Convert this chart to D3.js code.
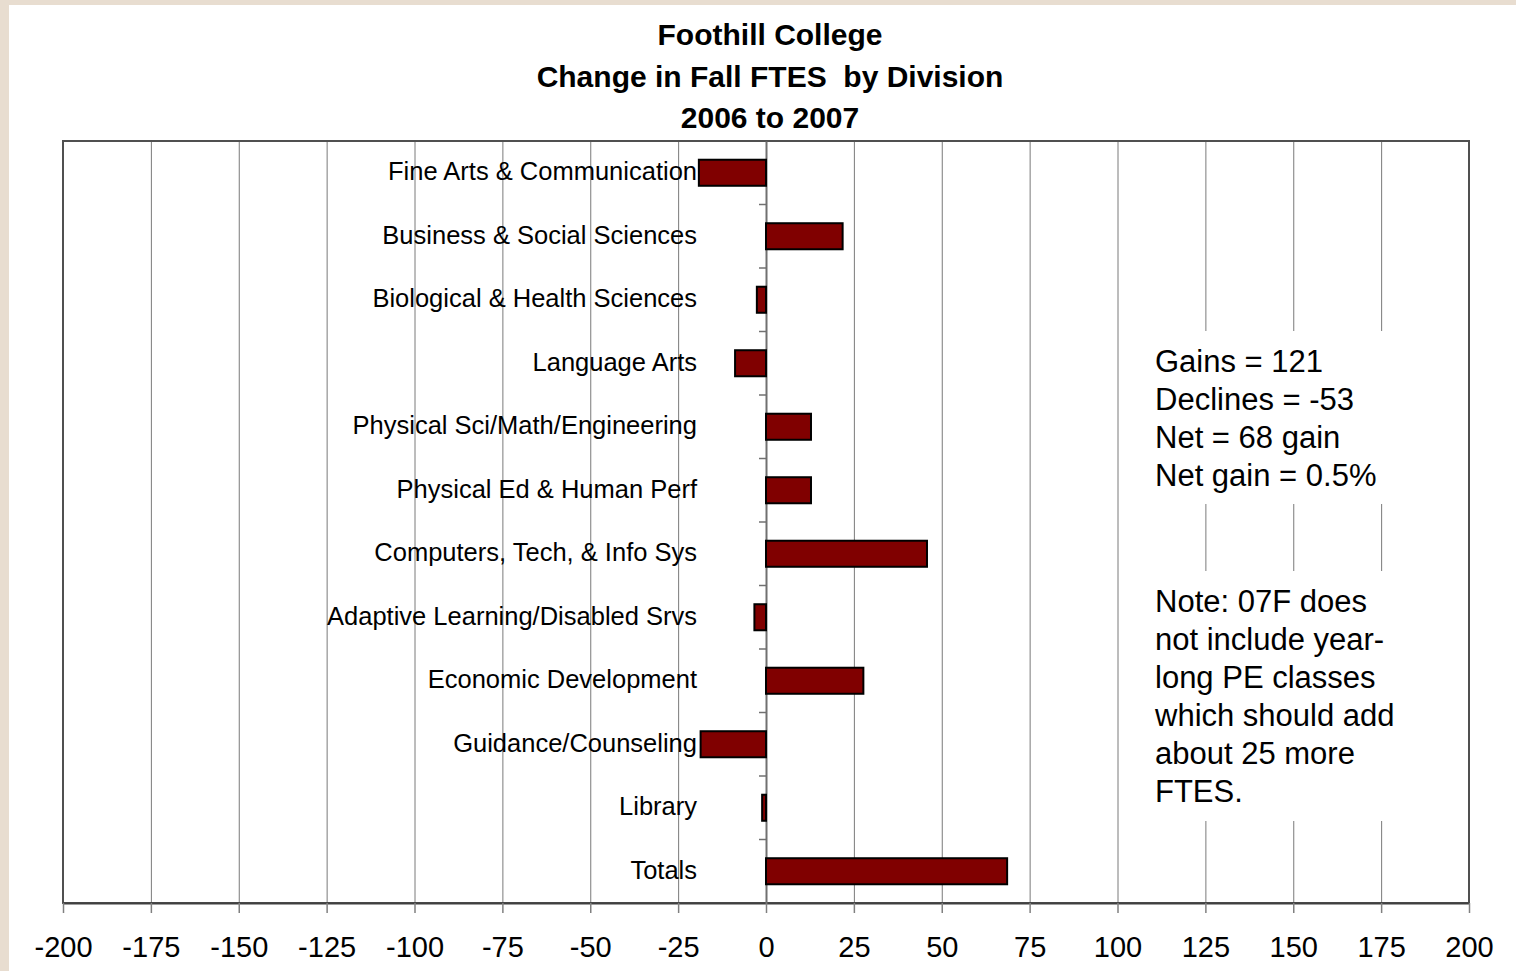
<!DOCTYPE html>
<html>
<head>
<meta charset="utf-8">
<script src="https://cdn.jsdelivr.net/npm/d3@7"></script>
<style>
  body { margin: 0; background: #e8ddd0; }
  svg text { font-family: "Liberation Sans", Arial, sans-serif; fill: #000; }
</style>
</head>
<body>
<div id="chart"></div>
<script>
const categories = [
  "Fine Arts & Communication",
  "Business & Social Sciences",
  "Biological & Health Sciences",
  "Language Arts",
  "Physical Sci/Math/Engineering",
  "Physical Ed & Human Perf",
  "Computers, Tech, & Info Sys",
  "Adaptive Learning/Disabled Srvs",
  "Economic Development",
  "Guidance/Counseling",
  "Library",
  "Totals"
];
const values = [-19.1, 21.8, -2.6, -8.8, 12.8, 12.8, 45.8, -3.3, 27.7, -18.6, -1.1, 68.6];
const x_ticks = [-200, -175, -150, -125, -100, -75, -50, -25, 0, 25, 50, 75, 100, 125, 150, 175, 200];
const title_lines = ["Foothill College", "Change in Fall FTES  by Division", "2006 to 2007"];
const summary_lines = ["Gains = 121", "Declines = -53", "Net = 68 gain", "Net gain = 0.5%"];
const note_lines = ["Note: 07F does", "not include year-", "long PE classes", "which should add", "about 25 more", "FTES."];

const W = 1516, H = 971;
const plot = { left: 63, right: 1469, top: 141, bottom: 903 };

const svg = d3.select("#chart").append("svg")
  .attr("width", W)
  .attr("height", H);

svg.append("rect").attr("width", W).attr("height", H).attr("fill", "#e8ddd0");
svg.append("rect").attr("x", 9).attr("y", 5).attr("width", W - 9).attr("height", H - 5).attr("fill", "#fff");

const x_scale = d3.scaleLinear().domain([-200, 200]).range([plot.left, plot.right]);
const y_scale = d3.scaleBand().domain(categories).range([plot.top, plot.bottom])
  .paddingInner(0.59).paddingOuter(0.295);

// vertical grid lines
svg.append("g")
  .attr("transform", "translate(0," + plot.top + ")")
  .call(d3.axisBottom(x_scale).tickValues(x_ticks).tickSize(plot.bottom - plot.top).tickFormat(""))
  .call(g => g.select(".domain").remove())
  .call(g => g.selectAll("line").attr("stroke", "#7a7a7a").attr("stroke-width", 1));

// text boxes cover the grid
const boxes = [
  { y: 331, h: 173, lines: summary_lines },
  { y: 571, h: 250, lines: note_lines }
];
boxes.forEach(b => {
  svg.append("rect").attr("x", 1135).attr("y", b.y).attr("width", 300).attr("height", b.h).attr("fill", "#fff");
  const t = svg.append("text").attr("x", 1155).attr("y", b.y + 41).style("font-size", "31px");
  t.selectAll("tspan").data(b.lines).join("tspan")
    .attr("x", 1155)
    .attr("dy", (d, i) => i === 0 ? 0 : 38)
    .text(d => d);
});

// plot frame
svg.append("rect")
  .attr("x", plot.left).attr("y", plot.top)
  .attr("width", plot.right - plot.left).attr("height", plot.bottom - plot.top)
  .attr("fill", "none").attr("stroke", "#505050").attr("stroke-width", 2);

// x axis
svg.append("g")
  .attr("transform", "translate(0," + plot.bottom + ")")
  .call(d3.axisBottom(x_scale).tickValues(x_ticks).tickSize(10).tickPadding(23).tickSizeOuter(0)
    .tickFormat(d => String(d)))
  .call(g => g.select(".domain").attr("stroke", "#404040").attr("stroke-width", 2))
  .call(g => g.selectAll(".tick line").attr("stroke", "#808080").attr("stroke-width", 1.5))
  .call(g => g.selectAll("text").style("font-size", "29px").attr("font-family", null));

// category axis at zero
const y_axis = svg.append("g")
  .attr("transform", "translate(" + x_scale(0) + ",0)")
  .call(d3.axisLeft(y_scale).tickSize(0).tickPadding(69))
  .call(g => g.select(".domain").attr("stroke", "#707070").attr("stroke-width", 2))
  .call(g => g.selectAll("text").style("font-size", "25.5px").attr("font-family", null).attr("dy", "0.3em"));

y_axis.selectAll(".divider")
  .data(categories.slice(1))
  .join("line")
  .attr("class", "divider")
  .attr("x1", -7).attr("x2", 0)
  .attr("y1", d => y_scale(d) - y_scale.step() * y_scale.paddingInner() / 2)
  .attr("y2", d => y_scale(d) - y_scale.step() * y_scale.paddingInner() / 2)
  .attr("stroke", "#707070").attr("stroke-width", 1.5);

// bars
svg.append("g")
  .selectAll("rect")
  .data(values)
  .join("rect")
  .attr("x", d => x_scale(Math.min(0, d)))
  .attr("width", d => Math.abs(x_scale(d) - x_scale(0)))
  .attr("y", (d, i) => y_scale(categories[i]))
  .attr("height", y_scale.bandwidth())
  .attr("fill", "#800000")
  .attr("stroke", "#000")
  .attr("stroke-width", 2);

// title
svg.append("g")
  .selectAll("text")
  .data(title_lines)
  .join("text")
  .attr("x", 770)
  .attr("y", (d, i) => 45 + i * 41.5)
  .attr("text-anchor", "middle")
  .style("font-size", "30px")
  .style("font-weight", "bold")
  .style("white-space", "pre")
  .text(d => d);
</script>
</body>
</html>
